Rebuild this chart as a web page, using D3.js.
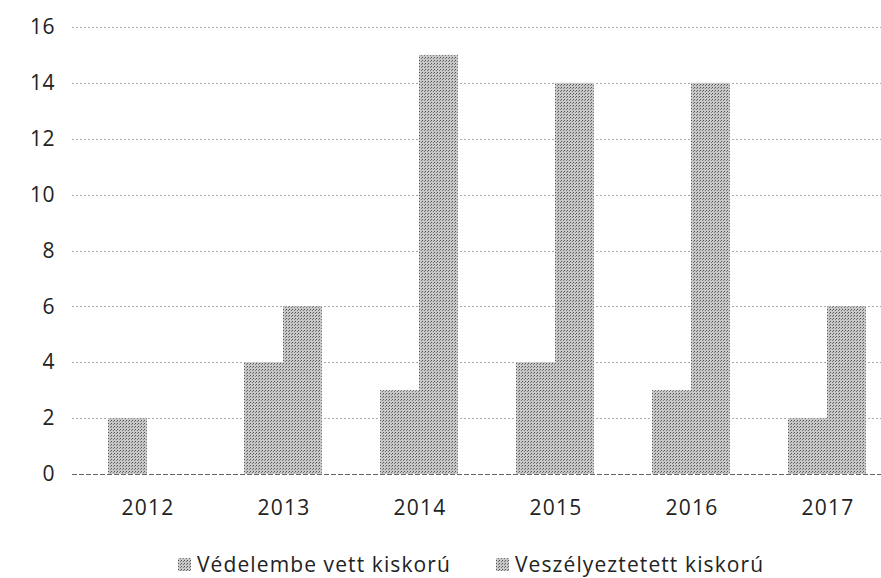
<!DOCTYPE html>
<html>
<head>
<meta charset="utf-8">
<script src="https://cdn.jsdelivr.net/npm/d3@7"></script>
<style>
  body { margin: 0; background: #fff; }
  svg text { font-family: "Open Sans", "DejaVu Sans", sans-serif; fill: #222; }
</style>
</head>
<body>
<div id="chart"></div>
<script>
const years = ['2012', '2013', '2014', '2015', '2016', '2017'];
const vedelembe = [2, 4, 3, 4, 3, 2];
const veszelyeztetett = [0, 6, 15, 14, 14, 6];
const seriesNames = ['Védelembe vett kiskorú', 'Veszélyeztetett kiskorú'];
const yTicks = [0, 2, 4, 6, 8, 10, 12, 14, 16];

const w = 881;
const h = 578;

const svg = d3.select('#chart')
  .append('svg')
  .attr('width', w)
  .attr('height', h)

// dithered grey like the scan
const defs = svg.append('defs');
const pat = defs.append('pattern')
  .attr('id', 'dots')
  .attr('width', 3)
  .attr('height', 3)
  .attr('patternUnits', 'userSpaceOnUse')
pat.append('rect').attr('width', 3).attr('height', 3).attr('fill', '#c8c8c8')
pat.append('rect').attr('x', 0).attr('y', 0).attr('width', 1).attr('height', 1).attr('fill', '#555')
pat.append('rect').attr('x', 2).attr('y', 1).attr('width', 1).attr('height', 1).attr('fill', '#7a7a7a')

const xScale = d3.scaleBand()
  .domain(years)
  .range([79, 895])
  .paddingInner(0.4265)
  .paddingOuter(0.21325)

const xInner = d3.scaleBand()
  .domain([0, 1])
  .range([0, xScale.bandwidth()])

const yScale = d3.scaleLinear()
  .domain([0, 16])
  .range([474, 27])

// gridlines
svg.append('g')
  .selectAll('line')
  .data(yTicks)
  .enter()
  .append('line')
  .attr('x1', 72)
  .attr('x2', 881)
  .attr('y1', d => Math.round(yScale(d)) + 0.5)
  .attr('y2', d => Math.round(yScale(d)) + 0.5)
  .attr('stroke', d => d === 0 ? '#666' : '#aaa')
  .attr('stroke-width', 1)
  .attr('stroke-dasharray', d => d === 0 ? '5,2' : '2,2')

const rows = years.map((y, i) => ({ year: y, vals: [vedelembe[i], veszelyeztetett[i]] }))

svg.append('g')
  .selectAll('g')
  .data(rows)
  .enter()
  .append('g')
  .attr('transform', d => 'translate(' + xScale(d.year) + ',0)')
  .selectAll('rect')
  .data(d => d.vals.map((v, k) => ({ k: k, v: v })))
  .enter()
  .append('rect')
  .attr('x', d => xInner(d.k))
  .attr('y', d => yScale(d.v))
  .attr('width', xInner.bandwidth())
  .attr('height', d => yScale(0) - yScale(d.v))
  .attr('fill', 'url(#dots)')

// y labels
const yAxis = d3.axisLeft(yScale).tickValues(yTicks).tickSize(0).tickPadding(0)
const yg = svg.append('g')
  .attr('transform', 'translate(55,0)')
  .call(yAxis)
yg.select('.domain').remove()
yg.selectAll('text').attr('font-size', 21).attr('fill', '#222')
  .style('font-family', '"Open Sans", sans-serif')
  .style('letter-spacing', '0.5px')

// x labels
const xAxis = d3.axisBottom(xScale).tickSize(0).tickPadding(0)
const xg = svg.append('g')
  .attr('transform', 'translate(1,500)')
  .call(xAxis)
xg.select('.domain').remove()
xg.selectAll('text').attr('font-size', 21).attr('fill', '#222')
  .style('font-family', '"Open Sans", sans-serif')
  .style('letter-spacing', '1.2px')

// legend
const legendX = [178, 496];
const legend = svg.append('g')
  .selectAll('g')
  .data(seriesNames)
  .enter()
  .append('g')
  .attr('transform', (d, i) => 'translate(' + legendX[i] + ',557)')
legend.append('rect')
  .attr('y', 1)
  .attr('width', 13)
  .attr('height', 13)
  .attr('fill', 'url(#dots)')
legend.append('text')
  .attr('x', 19)
  .attr('y', 15)
  .attr('font-size', 21)
  .style('letter-spacing', '1.1px')
  .text(d => d)
</script>
</body>
</html>
